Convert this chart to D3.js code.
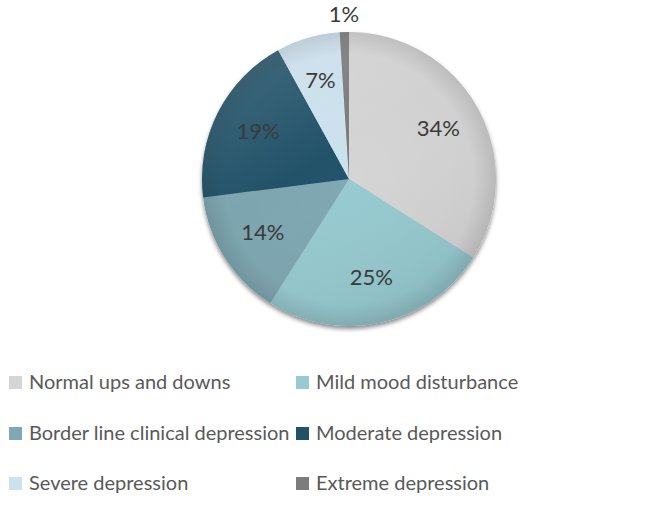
<!DOCTYPE html>
<html>
<head>
<meta charset="utf-8">
<script src="https://cdn.jsdelivr.net/npm/d3@7"></script>
<style>
  body { margin: 0; background: #fff; }
  svg { display: block; }
</style>
</head>
<body>
<svg id="chart" width="653" height="505"></svg>
<script>
// Data
const categories = ['Normal ups and downs', 'Mild mood disturbance', 'Border line clinical depression',
    'Moderate depression', 'Severe depression', 'Extreme depression'];
const values = [34, 25, 14, 19, 7, 1];
const colors = ['#d5d5d5', '#97cbd1', '#7fa8b2', '#20536a', '#cde2ef', '#7c7c7c'];

const width = 653, height = 505;
const cx = 349, cy = 179, radius = 147;

let svg = d3.select('#chart');
let defs = svg.append('defs');

// drop shadow under the pie
let shadow = defs.append('filter').attr('id', 'shadow')
    .attr('x', '-10%').attr('y', '-10%').attr('width', '120%').attr('height', '125%');
shadow.append('feDropShadow').attr('dx', 0).attr('dy', 3).attr('stdDeviation', 2)
    .attr('flood-color', '#000').attr('flood-opacity', 0.45);

// soft shading overlay
let shade = defs.append('radialGradient').attr('id', 'shade')
    .attr('cx', '0.5').attr('cy', '0.5').attr('r', '0.5');
shade.selectAll('stop')
    .data([
        { offset: '0', color: '#000', opacity: 0 },
        { offset: '0.85', color: '#000', opacity: 0.02 },
        { offset: '1', color: '#000', opacity: 0.12 },
    ])
    .enter().append('stop')
    .attr('offset', (d) => d.offset)
    .attr('stop-color', (d) => d.color)
    .attr('stop-opacity', (d) => d.opacity);

let light = defs.append('linearGradient').attr('id', 'light')
    .attr('x1', '0').attr('y1', '0').attr('x2', '0.6').attr('y2', '1');
light.selectAll('stop')
    .data([
        { offset: '0', color: '#fff', opacity: 0.18 },
        { offset: '0.5', color: '#fff', opacity: 0 },
        { offset: '1', color: '#000', opacity: 0.05 },
    ])
    .enter().append('stop')
    .attr('offset', (d) => d.offset)
    .attr('stop-color', (d) => d.color)
    .attr('stop-opacity', (d) => d.opacity);

// Pie
let pie = d3.pie().sort(null).value((d) => d);
let arcs = pie(values);
let arc = d3.arc().innerRadius(0).outerRadius(radius);
let labelArc = d3.arc().innerRadius(102).outerRadius(102);
let outerLabelArc = d3.arc().innerRadius(radius + 17).outerRadius(radius + 17);

let g = svg.append('g').attr('transform', 'translate(' + cx + ',' + cy + ')');

let slices = g.append('g').attr('filter', 'url(#shadow)');
slices.selectAll('path')
    .data(arcs)
    .enter()
    .append('path')
    .attr('d', arc)
    .attr('fill', (d, i) => colors[i]);

g.append('circle').attr('r', radius).attr('fill', 'url(#shade)');
g.append('circle').attr('r', radius).attr('fill', 'url(#light)');

// Labels
g.selectAll('text.label')
    .data(arcs)
    .enter()
    .append('text')
    .attr('class', 'label')
    .attr('transform', (d) => {
        let p = (d.endAngle - d.startAngle) < 0.2 ? outerLabelArc.centroid(d) : labelArc.centroid(d);
        return 'translate(' + p[0] + ',' + p[1] + ')';
    })
    .attr('text-anchor', 'middle')
    .attr('dy', '0.3em')
    .attr('font-family', 'Lato, "Open Sans", sans-serif')
    .attr('font-size', 22)
    .attr('fill', '#3a3a3a')
    .text((d) => d.value + '%');

// Legend
let legendX = [9, 296];
let legendY = [382, 433, 483];
let legend = svg.append('g');
let items = legend.selectAll('g')
    .data(categories)
    .enter()
    .append('g')
    .attr('transform', (d, i) => 'translate(' + legendX[i % 2] + ',' + legendY[Math.floor(i / 2)] + ')');

items.append('rect')
    .attr('x', 0).attr('y', -6)
    .attr('width', 13).attr('height', 13)
    .attr('fill', (d, i) => colors[i]);

items.append('text')
    .attr('x', 20)
    .attr('dy', '0.35em')
    .attr('font-family', 'Lato, "Open Sans", sans-serif')
    .attr('font-size', 20)
    .attr('fill', '#595959')
    .text((d) => d);
</script>
</body>
</html>
